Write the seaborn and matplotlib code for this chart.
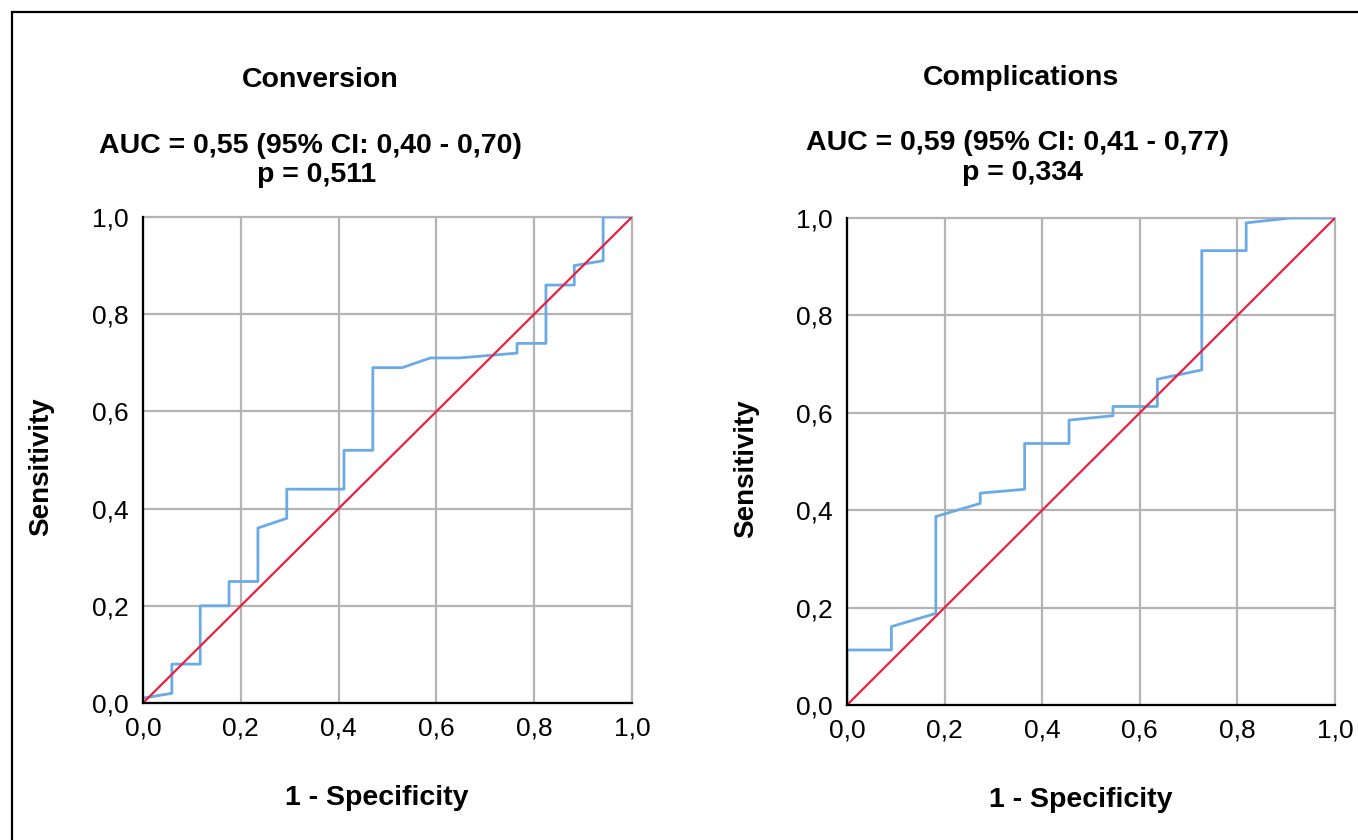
import numpy as np
import matplotlib
matplotlib.use("Agg")
import matplotlib.pyplot as plt
import seaborn as sns
from matplotlib.patches import Rectangle

# ROC points
conv_fpr = [0, 0.059, 0.059, 0.117, 0.117, 0.176, 0.176, 0.235, 0.235, 0.294, 0.294,
            0.411, 0.411, 0.47, 0.47, 0.53, 0.588, 0.647, 0.765, 0.765, 0.824, 0.824,
            0.882, 0.882, 0.941, 0.941, 1.0]
conv_tpr = [0.01, 0.02, 0.08, 0.08, 0.20, 0.20, 0.25, 0.25, 0.36, 0.38, 0.44,
            0.44, 0.52, 0.52, 0.69, 0.69, 0.71, 0.71, 0.72, 0.74, 0.74, 0.86,
            0.86, 0.90, 0.91, 1.0, 1.0]

comp_fpr = [0, 0, 0.091, 0.091, 0.182, 0.182, 0.273, 0.273, 0.364, 0.364, 0.455,
            0.455, 0.545, 0.545, 0.636, 0.636, 0.727, 0.727, 0.818, 0.818, 0.909, 1.0]
comp_tpr = [0, 0.113, 0.113, 0.161, 0.188, 0.387, 0.414, 0.435, 0.443, 0.537, 0.537,
            0.585, 0.594, 0.613, 0.613, 0.669, 0.688, 0.933, 0.933, 0.990, 1.0, 1.0]

ref_line = [0, 1]
ticks = [0, 0.2, 0.4, 0.6, 0.8, 1.0]
tick_labels = ['0,0', '0,2', '0,4', '0,6', '0,8', '1,0']

titles = ['Conversion', 'Complications']
auc_text = ['AUC = 0,55 (95% CI: 0,40 - 0,70)', 'AUC = 0,59 (95% CI: 0,41 - 0,77)']
p_text = ['p = 0,511', 'p = 0,334']

sns.set_style('white')
plt.rcParams['font.family'] = ['Liberation Sans', 'DejaVu Sans']
plt.rcParams['text.color'] = 'black'

fig = plt.figure(figsize=(13.58, 8.4), dpi=100)
ax1 = fig.add_axes([143 / 1358, 1 - 703 / 840, 489 / 1358, 486 / 840])
ax2 = fig.add_axes([847 / 1358, 1 - 705 / 840, 488 / 1358, 487 / 840])

curves = [(conv_fpr, conv_tpr), (comp_fpr, comp_tpr)]
# pixel rows of title, AUC line and p line; column of centre
title_rows = [[80, 146, 175], [78, 143, 173]]
title_cols = [[320, 310, 317], [1021, 1017, 1022]]

for i, ax in enumerate([ax1, ax2]):
    fpr, tpr = curves[i]
    sns.lineplot(x=fpr, y=tpr, sort=False, estimator=None, ax=ax,
                 color='#6aaae6', linewidth=2.0, zorder=3)
    sns.lineplot(x=ref_line, y=ref_line, sort=False, estimator=None, ax=ax,
                 color='#e8203f', linewidth=1.6, zorder=4)
    ax.set_xlim(0, 1)
    ax.set_ylim(0, 1)
    ax.set_xticks(ticks)
    ax.set_yticks(ticks)
    ax.set_xticklabels(tick_labels)
    ax.set_yticklabels(tick_labels)
    ax.tick_params(length=0, labelsize=19, colors='black')
    ax.tick_params(axis='y', pad=10)
    ax.tick_params(axis='x', pad=10)
    ax.grid(True, color='#b4b4b4', linewidth=1.6)
    ax.set_axisbelow(True)
    for gl in ax.get_xgridlines() + ax.get_ygridlines():
        gl.set_clip_on(False)
    for s in ['top', 'right']:
        ax.spines[s].set_visible(False)
    for s in ['left', 'bottom']:
        ax.spines[s].set_color('black')
        ax.spines[s].set_linewidth(1.6)
        ax.spines[s].set_zorder(5)
    ax.set_xlabel('1 - Specificity', fontsize=20.5, fontweight='bold', color='black')
    ax.set_ylabel('Sensitivity', fontsize=20, fontweight='bold', color='black')
    ax.xaxis.set_label_coords(0.478, -0.168)
    ax.yaxis.set_label_coords(-0.181, 0.486)

    fig.text(title_cols[i][0] / 1358, 1 - title_rows[i][0] / 840, titles[i],
             ha='center', va='center', fontsize=20.5, fontweight='bold')
    fig.text(title_cols[i][1] / 1358, 1 - title_rows[i][1] / 840, auc_text[i],
             ha='center', va='center', fontsize=20.5, fontweight='bold')
    fig.text(title_cols[i][2] / 1358, 1 - title_rows[i][2] / 840, p_text[i],
             ha='center', va='center', fontsize=20.5, fontweight='bold')

fig.patches.append(Rectangle((12 / 1358, -0.05), 1.1, 1 - 12 / 840 + 0.05,
                             transform=fig.transFigure, fill=False,
                             edgecolor='black', linewidth=1.6))

fig.savefig('out.png', dpi=100)
